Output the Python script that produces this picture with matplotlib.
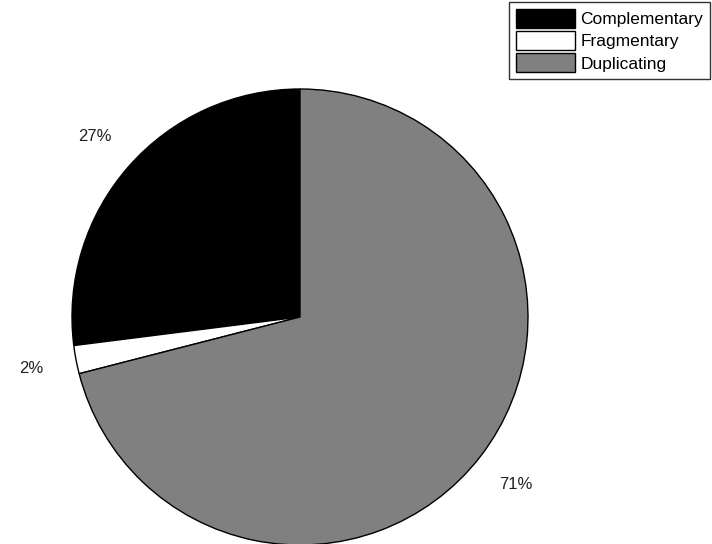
import matplotlib.pyplot as plt

plt.rcParams['font.family'] = ['Liberation Sans', 'DejaVu Sans']

labels = ["Complementary", "Fragmentary", "Duplicating"]
shares = [27, 2, 71]
colors = ["#000000", "#ffffff", "#808080"]

fig = plt.figure(figsize=(7.12, 5.44), dpi=100)
ax = fig.add_axes([0, 0, 1, 1])

wedges, texts, autotexts = ax.pie(
    shares, colors=colors, startangle=90, counterclock=True,
    center=(300, 544 - 317), radius=228, frame=True,
    autopct="%d%%", pctdistance=1.2,
    wedgeprops=dict(edgecolor="black", linewidth=1),
    textprops=dict(fontsize=12, color="#222222"),
)
ax.set_xlim(0, 712)
ax.set_ylim(0, 544)
ax.set_aspect("equal")
ax.axis("off")

leg = ax.legend(wedges, labels, loc="upper right", bbox_to_anchor=(1.0, 1.0),
                fontsize=12.5, frameon=True, fancybox=False,
                handlelength=3.4, handleheight=1.3, handletextpad=0.3,
                labelspacing=0.2, borderpad=0.4, borderaxespad=0.1)
leg.get_frame().set_edgecolor("black")
leg.get_frame().set_linewidth(1)

fig.savefig("out.png", dpi=100)
